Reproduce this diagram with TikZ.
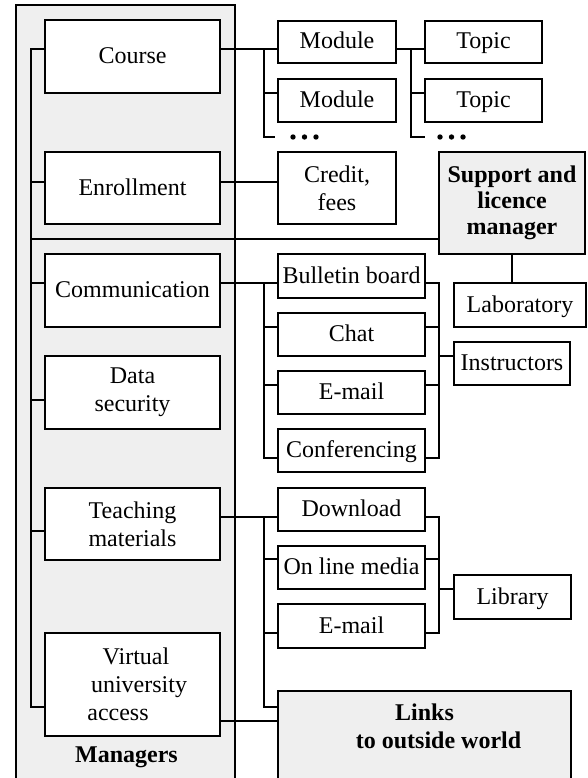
\documentclass[tikz,border=0pt]{standalone}
\usepackage{fontspec}
\setmainfont{Liberation Serif}
\definecolor{panelgray}{HTML}{EFEFEF}
\begin{document}
\begin{tikzpicture}[x=1pt,y=-1pt,
  box/.style={draw, line width=1.7pt, fill=white, inner sep=0pt, align=center,
              font=\fontsize{24}{28}\selectfont},
  oneline/.style={box, text height=16pt, text depth=2pt},
  graybox/.style={box, fill=panelgray},
  sz/.style 2 args={minimum width=#1pt, minimum height=#2pt},
  boldtext/.style={inner sep=0pt, align=center, font=\fontsize{24}{27}\selectfont\bfseries},
  wire/.style={line width=1.4pt}]
\useasboundingbox (0,0) rectangle (588,778);
\clip (0,0) rectangle (588,778);

% managers panel
\draw[line width=1.7pt, fill=panelgray] (16,5) rectangle (235,800);
\node[boldtext] (mgrlabel) at (126.5,757.5) {Managers};

% left column
\node[oneline, sz={175}{73}]  (course)  at (132.5,56.5)  {Course};
\node[oneline, sz={175}{72}]  (enroll)  at (132.5,188)   {Enrollment};
\node[oneline, sz={175}{73}]  (comm)    at (132.5,290.5) {Communication};
\node[box, sz={175}{73}]  (datasec) at (132.5,392.5) {Data\\security};
\node[box, sz={175}{72}]  (teach)   at (132.5,524)   {Teaching\\materials};
\node[box, sz={175}{103}] (virtual) at (132.5,684.5)
  {\hspace*{7pt}Virtual\\\hspace*{13pt}university\\access\hspace*{29pt}};

% course structure
\node[oneline, sz={118}{42}] (mod1)   at (337,42)     {Module};
\node[oneline, sz={118}{43}] (mod2)   at (337,100.5)  {Module};
\node[oneline, sz={117}{42}] (topic1) at (483.5,42)   {Topic};
\node[oneline, sz={117}{43}] (topic2) at (483.5,100.5){Topic};
\node[box, sz={118}{72}] (credit) at (337,188)    {Credit,\\fees};

% support
\node[graybox, sz={146}{102}] (support) at (512,203) {};
\node[boldtext, font=\fontsize{24}{26}\selectfont\bfseries] (supportlabel) at (512,203)
  {Support and\\licence\\manager};
\node[oneline, sz={132}{44}] (lab) at (520,305) {Laboratory};

% communication
\node[oneline, sz={147}{44}] (bulletin) at (351.5,276)   {Bulletin board};
\node[oneline, sz={147}{43}] (chat)     at (351.5,334.5) {Chat};
\node[oneline, sz={147}{43}] (email1)   at (351.5,392.5) {E-mail};
\node[oneline, sz={147}{43}] (conf)     at (351.5,450.5) {Conferencing};
\node[oneline, sz={116}{43}] (instr)    at (512,363.5)   {Instructors};

% teaching materials
\node[oneline, sz={147}{43}] (download) at (351.5,509.5) {Download};
\node[oneline, sz={147}{43}] (media)    at (351.5,567.5) {On line media};
\node[oneline, sz={147}{44}] (email2)   at (351.5,626)   {E-mail};
\node[oneline, sz={117}{44}] (library)  at (512.5,597)   {Library};

% links
\node[graybox, sz={293}{109}] (links) at (424.5,745.5) {};
\node[boldtext, font=\fontsize{24}{28}\selectfont\bfseries] (linkslabel) at (424.5,726)
  {Links\\\hspace*{28pt}to outside world};

% managers bus
\draw[wire] (course.west |- 0,49) -| (31,707) -- (virtual.west |- 0,707);
\foreach \n/\y in {enroll/182, comm/283, datasec/400, teach/531}
  \draw[wire] (31,\y) -- (\n.west |- 0,\y);
\draw[wire] (31,239) -- (support.west |- 0,239);

% course -> modules -> topics
\draw[wire] (course.east |- 0,49) -- (mod1.west |- 0,49);
\draw[wire] (264,49) |- (mod2.west |- 0,93);
\draw[wire] (264,93) |- (275,137);
\foreach \dx in {0,11.5,23} \fill (293+\dx,137) circle (2.7);
\draw[wire] (mod1.east |- 0,49) -- (topic1.west |- 0,49);
\draw[wire] (411,49) |- (topic2.west |- 0,93);
\draw[wire] (411,93) |- (425,137);
\foreach \dx in {0,11.5,23} \fill (440+\dx,137) circle (2.7);

% enrollment
\draw[wire] (enroll.east |- 0,182) -- (credit.west |- 0,182);

% support -> laboratory
\draw[wire] (support.south) -- (support.south |- lab.north);

% communication tree
\draw[wire] (comm.east |- 0,283) -- (bulletin.west |- 0,283);
\draw[wire] (264,283) |- (conf.west |- 0,458);
\foreach \n/\y in {chat/327, email1/385}
  \draw[wire] (264,\y) -- (\n.west |- 0,\y);
\draw[wire] (bulletin.east |- 0,283) -| (439,458) -- (conf.east |- 0,458);
\foreach \n/\y in {chat/327, email1/385}
  \draw[wire] (\n.east |- 0,\y) -- (439,\y);
\draw[wire] (439,356) -- (instr.west |- 0,356);

% teaching materials tree
\draw[wire] (teach.east |- 0,517) -- (download.west |- 0,517);
\draw[wire] (264,517) |- (links.west |- 0,707);
\foreach \n/\y in {media/559, email2/633}
  \draw[wire] (264,\y) -- (\n.west |- 0,\y);
\draw[wire] (download.east |- 0,517) -| (439,633) -- (email2.east |- 0,633);
\draw[wire] (media.east |- 0,559) -- (439,559);
\draw[wire] (439,589) -- (library.west |- 0,589);

% virtual access -> links
\draw[wire] (virtual.east |- 0,721) -- (links.west |- 0,721);
\end{tikzpicture}
\end{document}
